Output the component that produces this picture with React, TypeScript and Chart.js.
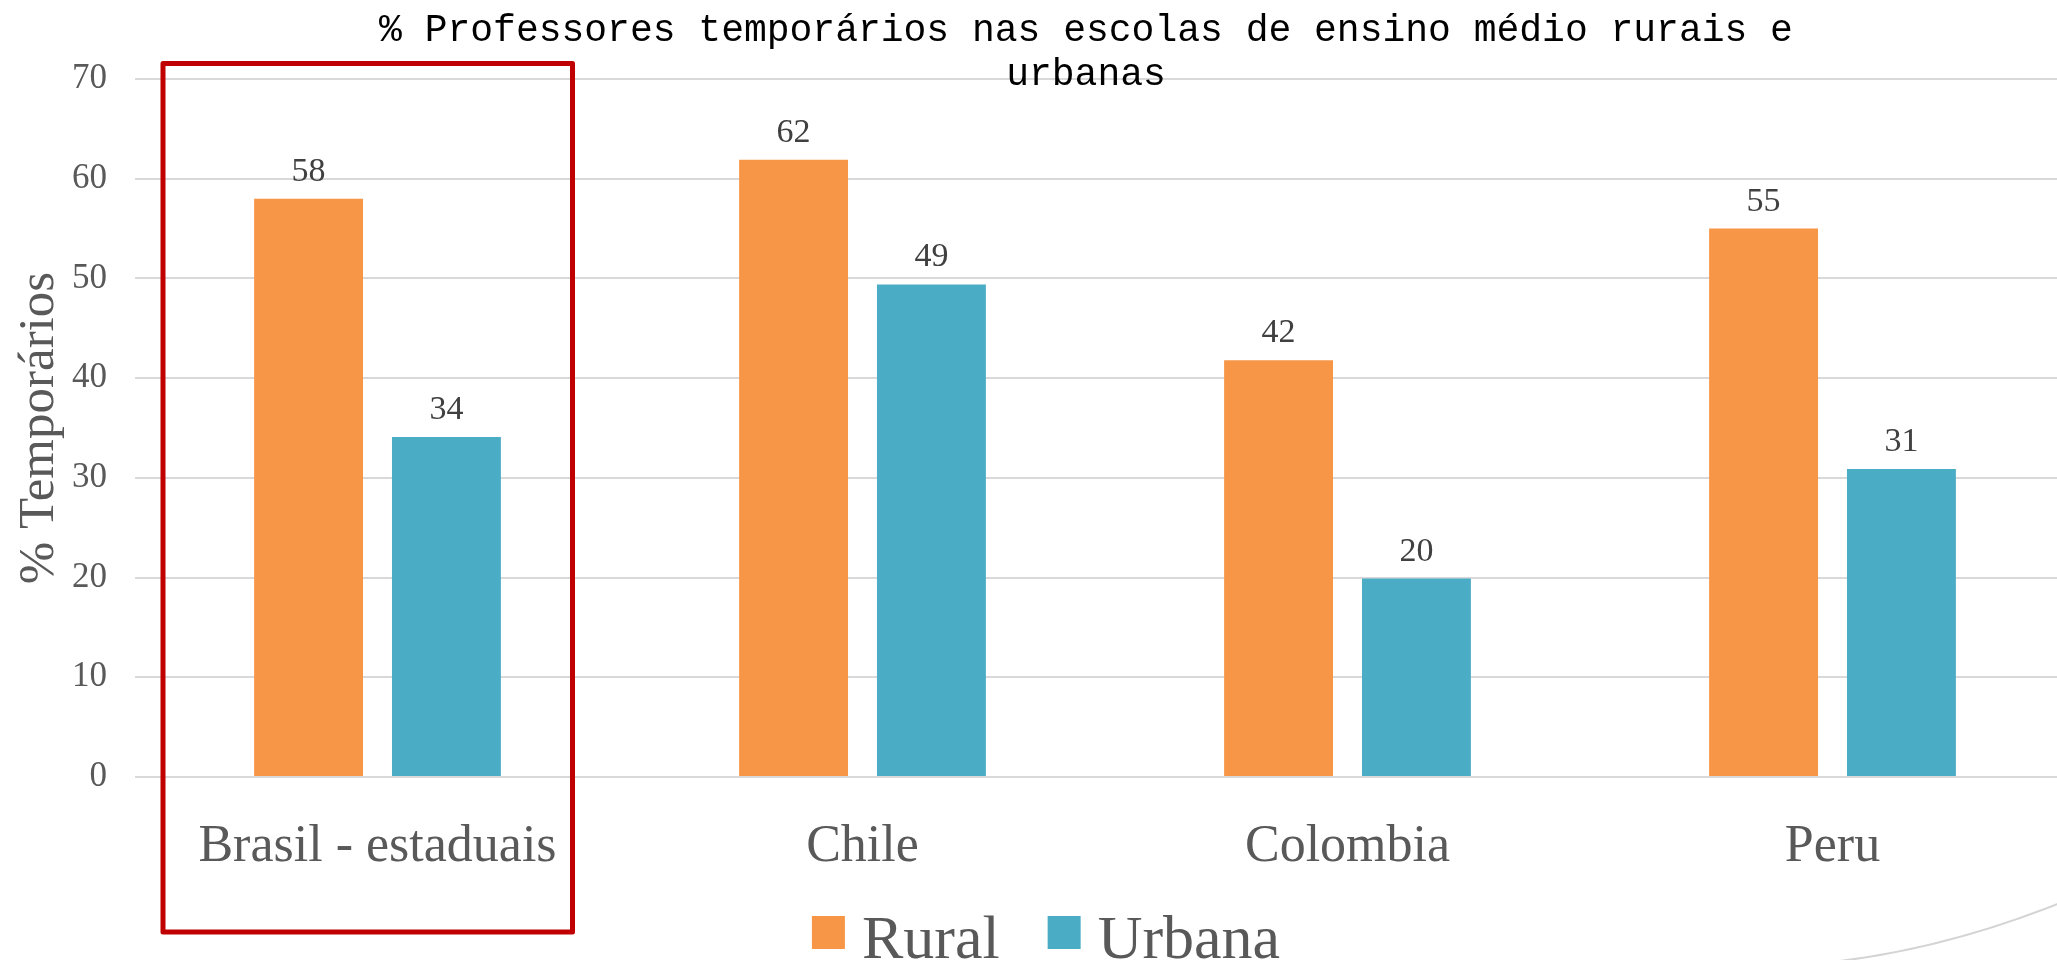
import React, { useEffect, useRef } from 'react';
import { Chart, registerables } from 'chart.js';

Chart.register(...registerables);

// ---- data ----
const categories = ['Brasil - estaduais', 'Chile', 'Colombia', 'Peru'];
const ruralValues = [58.0, 61.9, 41.8, 55.0];
const urbanaValues = [34.1, 49.4, 19.9, 30.9];
const seriesNames = ['Rural', 'Urbana'];
const seriesColors = ['#F79646', '#4BACC6'];
const titleLines = ['% Professores temporários nas escolas de ensino médio rurais e', 'urbanas'];
const yAxisTitle = '% Temporários';
const yMin = 0;
const yMax = 70;
const yStep = 10;

const SERIF = "'Liberation Serif', 'DejaVu Serif', serif";
const MONO = "'Liberation Mono', 'DejaVu Sans Mono', monospace";

const CANVAS_W = 2080;
const CANVAS_H = 960;

const backgroundArc = {
  id: 'backgroundArc',
  beforeDraw(chart: any) {
    const ctx = chart.ctx;
    ctx.save();
    ctx.strokeStyle = '#d4d4d4';
    ctx.lineWidth = 2;
    ctx.beginPath();
    ctx.moveTo(1840, 961);
    ctx.quadraticCurveTo(1956, 947, 2080, 895);
    ctx.stroke();
    ctx.restore();
  },
};

const titlePlugin = {
  id: 'slideTitle',
  afterDraw(chart: any) {
    const ctx = chart.ctx;
    ctx.save();
    ctx.font = `38px ${MONO}`;
    ctx.fillStyle = '#000000';
    ctx.textAlign = 'center';
    ctx.textBaseline = 'alphabetic';
    ctx.fillText(titleLines[0], 1086, 41);
    ctx.fillText(titleLines[1], 1086, 85);
    ctx.restore();
  },
};

const valueLabels = {
  id: 'valueLabels',
  afterDatasetsDraw(chart: any) {
    const ctx = chart.ctx;
    ctx.save();
    ctx.font = `34px ${SERIF}`;
    ctx.fillStyle = '#404040';
    ctx.textAlign = 'center';
    ctx.textBaseline = 'alphabetic';
    chart.data.datasets.forEach((ds: any, di: number) => {
      const meta = chart.getDatasetMeta(di);
      meta.data.forEach((el: any, i: number) => {
        ctx.fillText(String(Math.round(ds.data[i])), el.x, el.y - 18);
      });
    });
    ctx.restore();
  },
};

const customLegend = {
  id: 'customLegend',
  afterDraw(chart: any) {
    const ctx = chart.ctx;
    const box = 33;
    const gap = 17;
    const itemGap = 48;
    ctx.save();
    ctx.font = `62px ${SERIF}`;
    const items = chart.data.datasets.map((ds: any) => ({
      label: ds.label,
      color: ds.backgroundColor,
      w: ctx.measureText(ds.label).width,
    }));
    const total = items.reduce((s: number, it: any) => s + box + gap + it.w, 0) + itemGap * (items.length - 1);
    let x = 1046 - total / 2;
    items.forEach((it: any) => {
      ctx.fillStyle = it.color;
      ctx.fillRect(x, 916, box, box);
      ctx.fillStyle = '#595959';
      ctx.textAlign = 'left';
      ctx.textBaseline = 'alphabetic';
      ctx.fillText(it.label, x + box + gap, 958);
      x += box + gap + it.w + itemGap;
    });
    ctx.restore();
  },
};

const highlightBox = {
  id: 'highlightBox',
  afterDraw(chart: any) {
    const ctx = chart.ctx;
    const a = chart.chartArea;
    ctx.save();
    ctx.strokeStyle = '#C00000';
    ctx.lineWidth = 5;
    ctx.lineJoin = 'round';
    ctx.strokeRect(a.left + 28, a.top - 15.5, 409.5, 868.5);
    ctx.restore();
  },
};

export default function App() {
  const canvasRef = useRef<HTMLCanvasElement | null>(null);

  useEffect(() => {
    if (!canvasRef.current) return;
    const chart = new Chart(canvasRef.current, {
      type: 'bar',
      data: {
        labels: categories,
        datasets: [
          {
            label: seriesNames[0],
            data: ruralValues,
            backgroundColor: seriesColors[0],
            categoryPercentage: 0.5685,
            barPercentage: 0.79,
          },
          {
            label: seriesNames[1],
            data: urbanaValues,
            backgroundColor: seriesColors[1],
            categoryPercentage: 0.5685,
            barPercentage: 0.79,
          },
        ],
      },
      options: {
        responsive: false,
        animation: false,
        devicePixelRatio: 1,
        layout: { padding: { left: 0, right: 5, top: 79, bottom: 0 } },
        plugins: {
          legend: { display: false },
          title: { display: false },
          tooltip: { enabled: false },
        },
        scales: {
          x: {
            grid: { display: false, drawTicks: false },
            border: { display: false },
            ticks: {
              color: '#595959',
              font: { family: SERIF, size: 52 },
              padding: 39,
              maxRotation: 0,
              autoSkip: false,
            },
            afterFit: (s: any) => {
              s.height = 183;
            },
          },
          y: {
            min: yMin,
            max: yMax,
            grid: { color: '#d9d9d9', lineWidth: 2, drawTicks: false },
            border: { display: false },
            ticks: {
              stepSize: yStep,
              color: '#595959',
              font: { family: SERIF, size: 35 },
              padding: 28,
            },
            title: {
              display: true,
              text: yAxisTitle,
              color: '#595959',
              font: { family: SERIF, size: 51, lineHeight: 1.2 },
              padding: { top: 9, bottom: 0 },
            },
            afterFit: (s: any) => {
              s.width = 135;
            },
          },
        },
      },
      plugins: [backgroundArc, valueLabels, highlightBox, customLegend, titlePlugin],
    } as any);
    return () => chart.destroy();
  }, []);

  return (
    <div
      style={{
        position: 'fixed',
        left: 0,
        top: 0,
        width: '2057px',
        height: '960px',
        overflow: 'hidden',
        background: '#ffffff',
      }}
    >
      <canvas
        ref={canvasRef}
        width={CANVAS_W}
        height={CANVAS_H}
        style={{ display: 'block', width: CANVAS_W + 'px', height: CANVAS_H + 'px' }}
      />
    </div>
  );
}
